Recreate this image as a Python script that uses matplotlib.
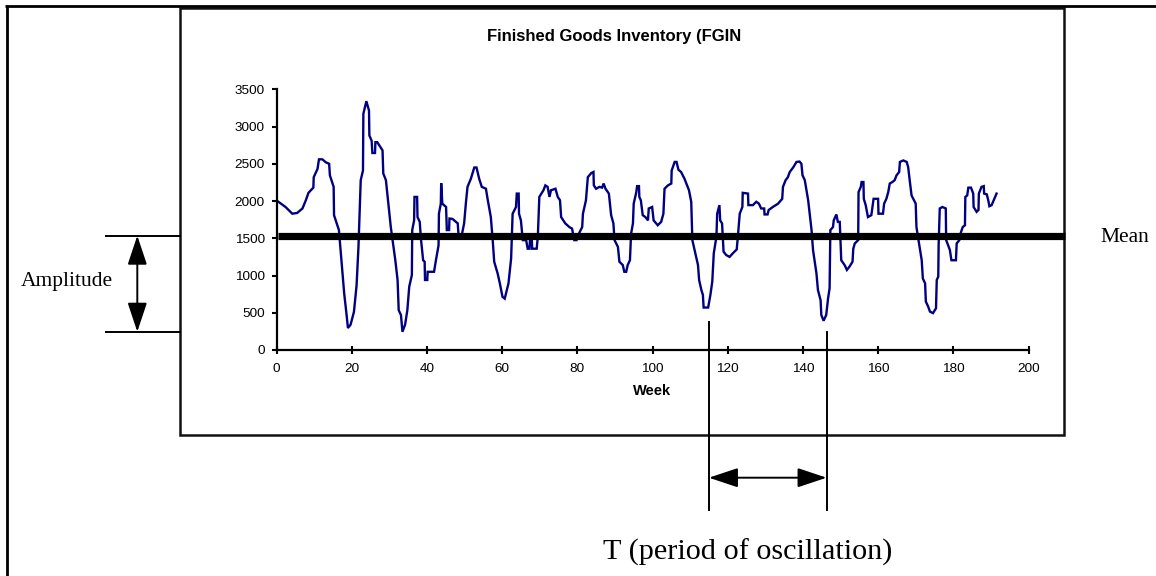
import matplotlib
matplotlib.use("Agg")
import matplotlib.pyplot as plt
from matplotlib import transforms
from matplotlib.lines import Line2D
from matplotlib.patches import Rectangle

# ---------------- data ----------------
weeks = [0.5, 2.4, 4.2, 5.5, 6.9, 7.8, 8.5, 9.8, 9.9, 10.9, 11.3, 12.2, 13.1, 14.0, 14.2, 15.2, 15.3,
         16.6, 17.1, 18.0, 18.6, 19.0, 19.7, 20.6, 21.3, 21.8, 22.4, 23.0, 23.1, 23.9, 24.6, 24.7, 25.3,
         25.5, 26.2, 26.3, 26.8, 28.2, 28.4, 29.1, 30.4, 31.6, 32.2, 32.5, 33.1, 33.5, 34.2, 34.8, 35.3,
         36.0, 36.1, 36.6, 36.7, 37.4, 37.5, 38.1, 38.4, 39.0, 39.4, 39.5, 40.1, 40.2, 41.9, 42.4, 43.1,
         43.2, 43.7, 43.8, 44.1, 45.1, 45.3, 45.9, 46.0, 46.8, 48.2, 48.4, 49.3, 49.9, 50.4, 50.8, 51.7,
         52.6, 53.2, 53.9, 54.6, 55.7, 56.2, 57.0, 57.5, 57.9, 58.8, 59.4, 60.1, 60.7, 61.7, 62.4, 62.8,
         63.7, 63.9, 64.4, 64.5, 65.0, 65.5, 66.4, 66.8, 67.3, 67.4, 67.9, 68.0, 69.2, 69.5, 69.9, 71.0,
         71.5, 72.1, 72.6, 73.0, 74.2, 74.8, 75.4, 75.7, 76.8, 77.9, 78.6, 79.2, 79.8, 80.4, 81.3, 81.5,
         82.3, 82.8, 83.7, 84.3, 84.4, 85.0, 85.9, 86.6, 87.0, 87.5, 88.4, 89.0, 89.6, 89.9, 90.8, 91.2,
         92.1, 92.5, 93.0, 93.4, 94.0, 94.3, 94.8, 95.0, 95.7, 95.9, 96.4, 96.5, 96.9, 97.4, 98.1, 98.8,
         99.0, 99.9, 100.3, 101.4, 102.3, 102.9, 103.2, 104.1, 105.0, 105.1, 105.9, 106.4, 106.9, 107.6,
         108.5, 109.7, 110.3, 110.6, 111.2, 112.1, 112.4, 113.0, 113.4, 113.6, 114.8, 115.4, 115.9, 116.3,
         117.0, 117.2, 117.8, 118.0, 118.5, 118.9, 119.6, 120.5, 121.4, 122.4, 122.7, 123.2, 123.9, 124.0,
         125.4, 125.5, 126.7, 127.6, 128.3, 128.9, 129.7, 129.8, 130.6, 130.9, 132.0, 133.4, 134.5, 134.7,
         135.4, 136.0, 136.5, 137.4, 138.3, 139.1, 139.6, 139.9, 140.5, 141.4, 142.3, 142.7, 143.6, 144.0,
         144.7, 144.9, 145.5, 146.2, 146.7, 147.1, 147.3, 148.0, 148.2, 148.9, 149.3, 149.8, 150.2, 151.1,
         151.7, 152.4, 153.2, 153.4, 153.8, 154.7, 154.8, 155.4, 155.6, 156.1, 156.2, 156.7, 157.3, 158.2,
         158.8, 160.0, 160.1, 161.3, 161.6, 162.2, 162.7, 163.1, 163.8, 164.4, 164.9, 165.6, 165.8, 166.7,
         167.6, 168.0, 168.4, 168.9, 170.0, 170.2, 170.6, 171.6, 171.9, 172.5, 172.7, 173.3, 173.8, 174.6,
         175.4, 175.6, 176.0, 176.1, 176.4, 177.1, 178.0, 178.1, 178.6, 179.1, 179.5, 180.7, 180.9, 181.6,
         181.9, 182.5, 183.1, 183.2, 183.7, 184.0, 184.7, 185.3, 185.4, 186.2, 186.7, 186.8, 187.5, 188.1,
         188.2, 188.9, 189.3, 189.6, 190.2, 191.5]
inventory = [1990, 1920, 1830, 1840, 1900, 2010, 2110, 2180, 2320, 2430, 2560, 2560, 2520, 2500, 2345, 2190, 1810,
             1610, 1300, 760, 490, 295, 340, 513, 870, 1385, 2280, 2410, 3170, 3340, 3215, 2880, 2810,
             2645, 2645, 2790, 2790, 2680, 2370, 2280, 1650, 1205, 940, 535, 470, 245, 340, 535, 850,
             1005, 1610, 1740, 2055, 2055, 1785, 1720, 1500, 1205, 1185, 940, 940, 1050, 1050, 1205, 1405,
             1830, 1965, 2240, 1965, 1920, 1610, 1610, 1765, 1760, 1700, 1550, 1550, 1700, 1990, 2190, 2300,
             2450, 2450, 2300, 2190, 2165, 2010, 1785, 1475, 1185, 1030, 895, 715, 690, 895, 1230, 1830,
             1920, 2100, 2100, 1830, 1740, 1475, 1475, 1360, 1360, 1475, 1475, 1360, 1360, 1520, 2055, 2145,
             2210, 2190, 2055, 2145, 2165, 2055, 2010, 1785, 1700, 1650, 1630, 1475, 1475, 1560, 1650, 1830,
             2010, 2320, 2375, 2390, 2210, 2165, 2190, 2180, 2235, 2165, 2100, 1810, 1700, 1475, 1385, 1185,
             1140, 1050, 1050, 1140, 1205, 1560, 1700, 1965, 2120, 2200, 2200, 2055, 2010, 1810, 1785, 1740,
             1900, 1920, 1740, 1675, 1720, 1830, 2165, 2210, 2235, 2410, 2525, 2525, 2420, 2390,
             2300, 2145, 1990, 1475, 1340, 1140, 940, 805, 740, 570, 570, 740, 920, 1300,
             1520, 1830, 1945, 1740, 1700, 1320, 1275, 1250, 1300, 1350, 1520, 1830, 1920, 2110,
             2100, 1945, 1945, 1990, 1965, 1900, 1900, 1820, 1820, 1880, 1920, 1965, 2030, 2190,
             2280, 2320, 2390, 2450, 2525, 2530, 2500, 2345, 2280, 2010, 1610, 1340, 1030, 805,
             670, 470, 393, 470, 695, 830, 1610, 1650, 1740, 1820, 1720, 1720, 1205, 1140,
             1075, 1120, 1185, 1360, 1430, 1475, 2120, 2190, 2255, 2255, 2030, 1945, 1785, 1810,
             2030, 2030, 1830, 1830, 1965, 2030, 2120, 2235, 2255, 2280, 2345, 2390, 2525, 2545,
             2525, 2455, 2280, 2075, 1965, 1650, 1520, 1205, 960, 895, 650, 585, 515, 495,
             560, 940, 985, 1410, 1900, 1920, 1900, 1475, 1410, 1340, 1205, 1205, 1430, 1475,
             1560, 1650, 1675, 2055, 2075, 2180, 2180, 2100, 1920, 1855, 1880, 2100, 2190, 2200,
             2100, 2090, 2010, 1930, 1945, 2100]
mean_value = 1535
amplitude_low = 245
period_start = 115.0
period_end = 146.3
x_ticks = [0, 20, 40, 60, 80, 100, 120, 140, 160, 180, 200]
y_ticks = [0, 500, 1000, 1500, 2000, 2500, 3000, 3500]
title = "Finished Goods Inventory (FGIN"
x_label = "Week"

# ---------------- layout helpers (pixel -> figure fraction) ----------------
W, H = 1156, 576
def fx(px):
    return px / W
def fy(py):
    return 1 - py / H

sans = ["Liberation Sans", "DejaVu Sans"]
serif = ["Liberation Serif", "DejaVu Serif"]

fig = plt.figure(figsize=(W / 100, H / 100), dpi=100)
fig.patch.set_facecolor("white")

ax = fig.add_axes([fx(276.5), fy(350), fx(1028.5) - fx(276.5), fy(89.3) - fy(350)])
ax.set_facecolor("none")

ax.plot(weeks, inventory, color="#000080", lw=1.7, solid_joinstyle="miter", zorder=2)

ax.set_xlim(0, 200)
ax.set_ylim(0, 3500)
ax.set_xticks(x_ticks)
ax.set_yticks(y_ticks)
ax.set_xticklabels([str(t) for t in x_ticks], family=sans, fontsize=9.7)
ax.set_yticklabels([str(t) for t in y_ticks], family=sans, fontsize=9.7)
ax.tick_params(axis="y", direction="out", length=3.5, width=1.5, pad=5)
ax.tick_params(axis="x", direction="inout", length=6, width=1.5, pad=6)
for s in ("top", "right"):
    ax.spines[s].set_visible(False)
for s in ("left", "bottom"):
    ax.spines[s].set_linewidth(1.6)
    ax.spines[s].set_color("black")
ax.set_xlabel(x_label, family=sans, fontsize=10.5, fontweight="bold", labelpad=7)

# mean line (extends to the inner frame on the right)
t_fig_data = transforms.blended_transform_factory(fig.transFigure, ax.transData)
fig.add_artist(Line2D([fx(277.5), fx(1065)], [mean_value, mean_value], transform=t_fig_data,
                      color="black", lw=5.2, solid_capstyle="butt", zorder=5))

# frames
fig.add_artist(Line2D([fx(5), fx(1156)], [fy(6), fy(6)], transform=fig.transFigure,
                      color="black", lw=2.0, solid_capstyle="butt"))
fig.add_artist(Line2D([fx(7), fx(7)], [fy(5), fy(576)], transform=fig.transFigure,
                      color="black", lw=2.0, solid_capstyle="butt"))
fig.add_artist(Rectangle((fx(180), fy(435)), fx(1063.5) - fx(180), fy(8.5) - fy(435),
                         transform=fig.transFigure, fill=False, edgecolor="#111111", lw=1.8))

# title
fig.text(fx(487), fy(36), title, family=sans, fontsize=12, fontweight="bold",
         ha="left", va="center")

# amplitude annotation
for v in (mean_value, amplitude_low):
    fig.add_artist(Line2D([fx(106), fx(180)], [v, v], transform=t_fig_data, color="black", lw=1.4))
ax.annotate("", xy=(fx(137.3), amplitude_low), xytext=(fx(137.3), mean_value),
            xycoords=t_fig_data, textcoords=t_fig_data, annotation_clip=False,
            arrowprops=dict(arrowstyle="<|-|>,head_length=1.8,head_width=0.6", color="black",
                            lw=1.4, shrinkA=0, shrinkB=0, mutation_scale=10))
fig.text(fx(67), fy(282), "Amplitude", family=serif, fontsize=15.5, ha="center", va="center")

# mean label
fig.text(fx(1100), fy(238), "Mean", family=serif, fontsize=15.5, ha="left", va="center")

# period annotation
t_data_fig = transforms.blended_transform_factory(ax.transData, fig.transFigure)
fig.add_artist(Line2D([period_start, period_start], [fy(321.7), fy(510)], transform=t_data_fig,
                      color="black", lw=1.4))
fig.add_artist(Line2D([period_end, period_end], [fy(331.7), fy(510)], transform=t_data_fig,
                      color="black", lw=1.4))
ax.annotate("", xy=(period_start, fy(477.7)), xytext=(period_end, fy(477.7)),
            xycoords=t_data_fig, textcoords=t_data_fig, annotation_clip=False,
            arrowprops=dict(arrowstyle="<|-|>,head_length=1.8,head_width=0.6", color="black",
                            lw=1.4, shrinkA=0, shrinkB=0, mutation_scale=10))
fig.text(fx(603), fy(552), "T (period of oscillation)", family=serif, fontsize=21.8,
         ha="left", va="center")

fig.savefig("out.png", dpi=100, facecolor="white")
